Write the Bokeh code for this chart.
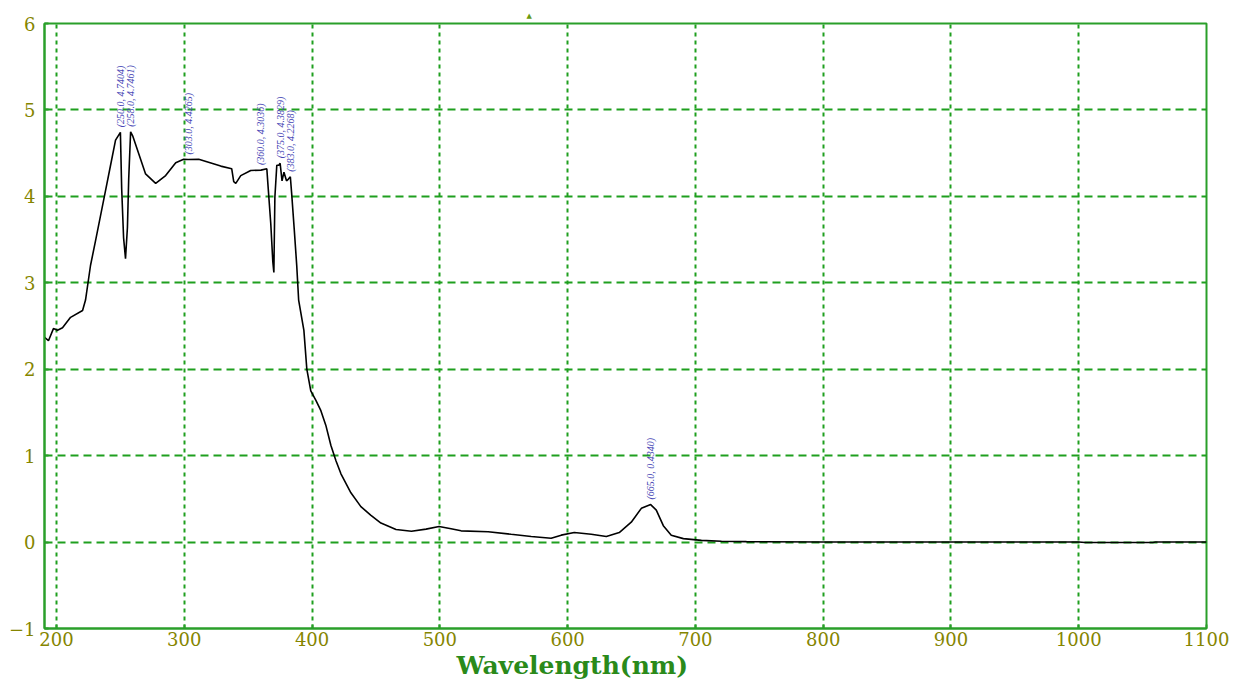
import math
from bokeh.plotting import figure
from bokeh.models import FixedTicker, ColumnDataSource, Title
from bokeh.core.properties import value
from bokeh.embed import file_html
from bokeh.resources import INLINE

# ---- data ----
wavelength = [190.6, 193.7, 197.6, 200.8, 204.7, 211.0, 220.4, 222.7, 226.6, 230.6,
              234.5, 238.4, 242.3, 246.2, 250.0, 251.0, 252.5, 254.0, 255.5, 256.5,
              258.0, 259.6, 263.5, 269.7, 277.6, 285.4, 293.3, 299.5, 303.0, 311.3,
              328.5, 337.1, 338.7, 340.3, 344.2, 352.0, 360.0, 364.6, 365.4, 367.7,
              369.3, 370.1, 370.9, 372.4, 374.0, 375.0, 376.5, 378.0, 380.0, 381.5,
              383.0, 384.0, 386.0, 388.0, 389.5, 393.6, 395.9, 399.0, 403.0, 406.9,
              410.8, 414.7, 418.7, 422.6, 430.4, 438.2, 446.1, 453.9, 465.7, 477.8,
              489.2, 499.4, 508.8, 516.6, 537.8, 555.8, 571.5, 587.1, 595.0, 605.2,
              618.5, 630.3, 640.4, 649.8, 657.7, 665.0, 669.4, 674.9, 681.1, 690.6,
              704.7, 720.4, 740.0, 800.0, 900.0, 1000.0, 1005.0, 1058.0, 1060.0, 1100.0]
absorbance = [2.37, 2.33, 2.47, 2.45, 2.48, 2.60, 2.68, 2.80, 3.20, 3.49,
              3.78, 4.07, 4.36, 4.65, 4.7404, 4.09, 3.52, 3.28, 3.64, 4.20,
              4.7461, 4.70, 4.53, 4.26, 4.15, 4.24, 4.39, 4.43, 4.4265, 4.43,
              4.35, 4.32, 4.17, 4.15, 4.24, 4.30, 4.3036, 4.32, 4.15, 3.68,
              3.24, 3.12, 3.99, 4.36, 4.36, 4.3829, 4.18, 4.28, 4.18, 4.20,
              4.2268, 4.04, 3.63, 3.20, 2.80, 2.45, 2.00, 1.75, 1.64, 1.52,
              1.35, 1.12, 0.94, 0.79, 0.57, 0.41, 0.31, 0.22, 0.145, 0.125,
              0.15, 0.18, 0.155, 0.13, 0.12, 0.09, 0.065, 0.045, 0.08, 0.11,
              0.09, 0.065, 0.11, 0.23, 0.39, 0.434, 0.37, 0.19, 0.08, 0.04,
              0.02, 0.01, 0.005, 0.0, 0.0, 0.0, -0.005, -0.005, 0.0, 0.0]

peak_wl = [250.0, 258.0, 303.0, 360.0, 375.0, 383.0, 665.0]
peak_abs = [4.7404, 4.7461, 4.4265, 4.3036, 4.3829, 4.2268, 0.4340]
peak_text = ["(%.1f, %.4f)" % (w, a) for w, a in zip(peak_wl, peak_abs)]

x_ticks = [200, 300, 400, 500, 600, 700, 800, 900, 1000, 1100]
y_ticks = [-1, 0, 1, 2, 3, 4, 5, 6]

GRID = "#1f9f1f"
BORDER = "#2a9f2a"
TICKLBL = "#858500"

p = figure(width=1243, height=681, x_range=(190.6, 1100), y_range=(-1, 6),
           output_backend="svg", toolbar_location=None,
           min_border_left=44, min_border_right=37, min_border_top=23, min_border_bottom=53,
           background_fill_color="white", border_fill_color="white")

p.outline_line_color = BORDER
p.outline_line_width = 2

for ax in (p.xaxis[0], p.yaxis[0]):
    ax.axis_line_color = BORDER
    ax.axis_line_width = 2
    ax.major_tick_in = 4
    ax.major_tick_out = 0
    ax.major_tick_line_color = BORDER
    ax.major_tick_line_width = 2
    ax.minor_tick_line_color = None
    ax.major_label_text_font = "DejaVu Serif"
    ax.major_label_text_font_size = "18px"
    ax.major_label_text_color = TICKLBL

p.xaxis[0].ticker = FixedTicker(ticks=x_ticks)
p.yaxis[0].ticker = FixedTicker(ticks=y_ticks)
p.xaxis[0].major_label_standoff = 3
p.yaxis[0].major_label_standoff = 9

p.xgrid.ticker = FixedTicker(ticks=x_ticks[:-1])
p.ygrid.ticker = FixedTicker(ticks=y_ticks[1:-1])
p.xgrid.grid_line_color = GRID
p.xgrid.grid_line_width = 2
p.xgrid.grid_line_dash = "4 4"
p.ygrid.grid_line_color = GRID
p.ygrid.grid_line_width = 2
p.ygrid.grid_line_dash = "8 5"

p.line(wavelength, absorbance, line_color="black", line_width=1.6)

src = ColumnDataSource(dict(x=peak_wl, y=peak_abs, t=peak_text))
p.text(x="x", y="y", text="t", source=src, angle=math.pi / 2,
       text_align="left", text_baseline="middle", y_offset=-5,
       text_font=value("Liberation Serif"), text_font_style="italic",
       text_font_size="10px", text_color="#4545b5")

xlabel = Title(text="Wavelength(nm)", align="left", offset=412, standoff=0,
               text_font="DejaVu Serif", text_font_style="bold",
               text_font_size="25px", text_color="#2a8a1a")
p.add_layout(xlabel, "below")

marker = Title(text="\u25b2", align="left", offset=482, standoff=7,
               text_font="DejaVu Sans", text_font_style="normal",
               text_font_size="7px", text_color="#6a9a10")
p.add_layout(marker, "above")

open("out.html", "w").write(file_html(p, INLINE))
